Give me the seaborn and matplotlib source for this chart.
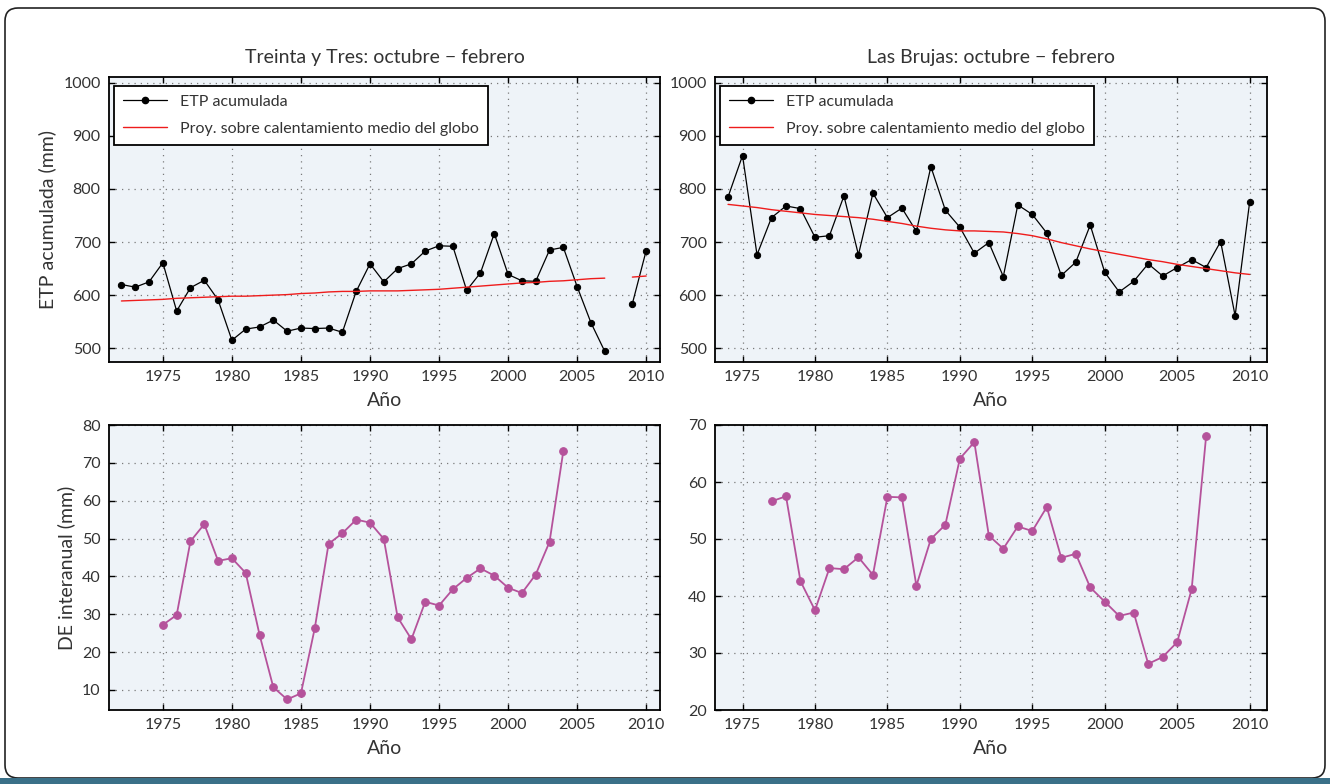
import numpy as np
import pandas as pd
import matplotlib
matplotlib.use("Agg")
import matplotlib.pyplot as plt
from matplotlib.patches import FancyBboxPatch, Rectangle
import seaborn as sns

# ---- data -------------------------------------------------------------
anios_tyt = list(range(1972, 2011))
etp_tyt = [620, 615, 625, 661, 570, 614, 628, 591, 515, 536,
           540, 553, 532, 538, 537, 538, 530, 607, 659, 625,
           650, 659, 683, 693, 692, 609, 642, 716, 639, 627,
           626, 685, 690, 616, 548, 494, np.nan, 584, 684]
proy_tyt = [589, 590, 591, 592, 594, 595, 596, 597, 598, 598,
            599, 600, 601, 603, 604, 606, 607, 607, 608, 608,
            608, 609, 610, 611, 613, 615, 617, 619, 621, 623,
            624, 626, 627, 629, 631, 632, np.nan, 634, 636]

anios_lb = list(range(1974, 2011))
etp_lb = [785, 863, 676, 746, 768, 763, 709, 712, 787, 676,
          792, 746, 764, 720, 842, 760, 728, 679, 699, 635,
          770, 752, 717, 637, 662, 732, 643, 606, 626, 659,
          636, 652, 667, 652, 701, 561, 775]
proy_lb = [771, 768, 765, 761, 758, 755, 752, 750, 748, 746,
           743, 739, 735, 730, 726, 723, 721, 721, 720, 719,
           716, 712, 706, 699, 693, 687, 682, 677, 672, 667,
           663, 658, 654, 650, 646, 642, 639]

anios_de_tyt = list(range(1975, 2005))
de_tyt = [27.2, 29.8, 49.3, 53.8, 44.1, 44.8, 40.9, 24.6, 10.7, 7.5,
          9.1, 26.3, 48.6, 51.4, 55.0, 54.2, 49.9, 29.2, 23.4, 33.3,
          32.3, 36.6, 39.6, 42.1, 40.2, 37.0, 35.6, 40.5, 49.1, 73.1]

anios_de_lb = list(range(1977, 2008))
de_lb = [56.6, 57.5, 42.6, 37.5, 44.9, 44.7, 46.8, 43.7, 57.4, 57.3,
         41.8, 50.0, 52.5, 64.1, 67.0, 50.6, 48.3, 52.2, 51.4, 55.6,
         46.7, 47.4, 41.5, 39.0, 36.5, 37.1, 28.1, 29.3, 31.9, 41.2, 68.1]

xticks = [1975, 1980, 1985, 1990, 1995, 2000, 2005, 2010]
titulos = ["Treinta y Tres: octubre \u2212 febrero", "Las Brujas: octubre \u2212 febrero"]
etq_etp = "ETP acumulada"
etq_proy = "Proy. sobre calentamiento medio del globo"


def con_tramos(anios, valores):
    """Table with a segment id so that missing years break the line."""
    df = pd.DataFrame({"anio": anios, "valor": valores})
    df["tramo"] = df["valor"].isna().cumsum()
    return df.dropna()


# ---- style ------------------------------------------------------------
sns.set_theme(style="ticks")
plt.rcParams["font.family"] = ["Lato", "DejaVu Sans"]
plt.rcParams["text.color"] = "#333333"
plt.rcParams["axes.labelcolor"] = "#333333"
plt.rcParams["xtick.color"] = "#333333"
plt.rcParams["ytick.color"] = "#333333"

FONDO = "#eef3f8"
MAGENTA = "#b5529b"
W, H = 1330, 784
fig = plt.figure(figsize=(W / 100, H / 100), dpi=100)


def caja(x0, y0, x1, y1):
    return fig.add_axes([x0 / W, 1 - y1 / H, (x1 - x0) / W, (y1 - y0) / H])


ax_tl = caja(109, 77, 660, 362)
ax_tr = caja(715, 77, 1267, 362)
ax_bl = caja(109, 425, 660, 710)
ax_br = caja(715, 425, 1267, 710)


def estilo(ax, xlim, ylim, yticks):
    ax.set_facecolor(FONDO)
    ax.set_xlim(*xlim)
    ax.set_ylim(*ylim)
    ax.set_xticks(xticks)
    ax.set_yticks(yticks)
    ax.grid(True, color="#7a7a7a", linestyle=(0, (1, 4)), linewidth=0.9)
    ax.tick_params(direction="in", top=True, right=True, length=4,
                   width=1, labelsize=11.5, pad=6, color="black")
    for s in ax.spines.values():
        s.set_color("black")
        s.set_linewidth(1.3)
    ax.set_xlabel("A\u00f1o", fontsize=14, labelpad=5.5)
    ax.set_ylabel("")


# ---- ETP panels -------------------------------------------------------
for ax, anios, etp, proy, titulo in [
        (ax_tl, anios_tyt, etp_tyt, proy_tyt, titulos[0]),
        (ax_tr, anios_lb, etp_lb, proy_lb, titulos[1])]:
    d_etp = con_tramos(anios, etp)
    d_proy = con_tramos(anios, proy)
    sns.lineplot(data=d_etp, x="anio", y="valor", units="tramo", estimator=None,
                 color="black", linewidth=0.9, marker="o", markersize=4.5,
                 markeredgecolor="black", ax=ax)
    sns.lineplot(data=d_proy, x="anio", y="valor", units="tramo", estimator=None,
                 color="#ee1c1c", linewidth=1.0, ax=ax)
    xlim = (1971.1, 2011.0) if ax is ax_tl else (1973.1, 2011.2)
    estilo(ax, xlim, (474, 1011), [500, 600, 700, 800, 900, 1000])
    ax.set_title(titulo, fontsize=14, pad=10)
    h_etp = plt.Line2D([], [], color="black", linewidth=0.9, marker="o", markersize=4.5)
    h_proy = plt.Line2D([], [], color="#ee1c1c", linewidth=1.0)
    leg = ax.legend([h_etp, h_proy], [etq_etp, etq_proy], loc="upper left",
                    fontsize=11.5, frameon=True, fancybox=False, framealpha=1,
                    edgecolor="black", handlelength=2.8, borderpad=0.55,
                    labelspacing=0.8, borderaxespad=0,
                    bbox_to_anchor=(0.009, 0.968))
    leg.get_frame().set_linewidth(1.3)

ax_tl.set_ylabel("ETP acumulada (mm)", fontsize=14, labelpad=5)

# ---- interannual SD panels --------------------------------------------
sns.lineplot(x=anios_de_tyt, y=de_tyt, color=MAGENTA, linewidth=1.3,
             marker="o", markersize=5.5, markeredgecolor=MAGENTA, ax=ax_bl)
estilo(ax_bl, (1971.1, 2011.0), (4.7, 80), [10, 20, 30, 40, 50, 60, 70, 80])
ax_bl.set_ylabel("DE interanual (mm)", fontsize=14, labelpad=5)

sns.lineplot(x=anios_de_lb, y=de_lb, color=MAGENTA, linewidth=1.3,
             marker="o", markersize=5.5, markeredgecolor=MAGENTA, ax=ax_br)
estilo(ax_br, (1973.1, 2011.2), (20, 70), [20, 30, 40, 50, 60, 70])

# ---- outer frame and bottom band ---------------------------------------
marco = FancyBboxPatch((5, 6), W - 10, H - 14,
                       boxstyle="round,pad=0,rounding_size=13",
                       transform=None, fill=False, edgecolor="#222222",
                       linewidth=1.2, zorder=-1)
fig.patches.append(marco)
banda = Rectangle((0, 0), W, 6, transform=None, facecolor="#3a7088",
                  edgecolor="none", zorder=5)
fig.patches.append(banda)

fig.savefig("out.png", dpi=100)
